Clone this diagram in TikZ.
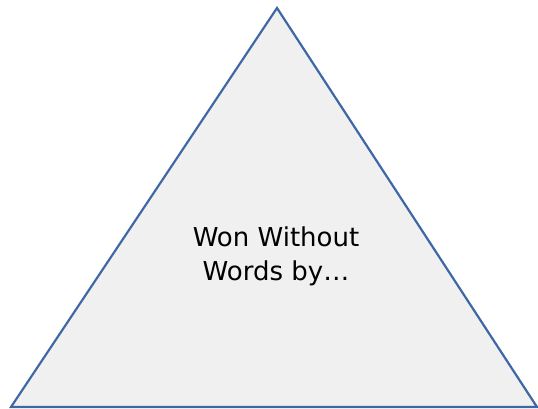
\documentclass[tikz,border=0pt]{standalone}
\usepackage{fontspec}
\setmainfont{DejaVu Sans}
\definecolor{tribord}{HTML}{3F67A6}
\definecolor{trifill}{HTML}{F0F0F0}
\tikzset{tri/.style={draw=tribord, fill=trifill, line width=2.2pt, line join=miter},
  lbl/.style={align=center, font=\fontsize{26}{34}\selectfont, text=black}}
\begin{document}
\begin{tikzpicture}[x=1pt,y=-1pt]
\useasboundingbox (0,0) rectangle (538,409);
\coordinate (apex) at (277,8);
\coordinate (bl) at (11,407);
\coordinate (br) at (537,407);
\draw[tri] (apex) -- (br) -- (bl) -- cycle;
\node[lbl] (t) at (276,256) {Won Without\\Words by…};
\end{tikzpicture}
\end{document}
